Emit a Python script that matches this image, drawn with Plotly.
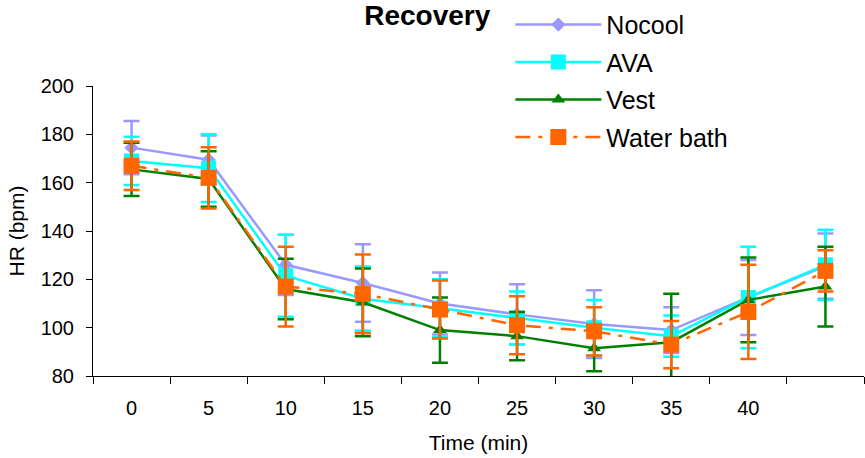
import plotly.graph_objects as go

categories = ["0", "5", "10", "15", "20", "25", "30", "35", "40", ""]
positions = list(range(len(categories)))

nocool_mean = [174.5, 169.5, 126, 118.5, 110, 105.5, 101.5, 99, 112.5, 125.5]
nocool_sd = [11, 10, 12.5, 16, 12.8, 12.5, 14, 9.5, 15.5, 13.5]
ava_mean = [169, 166, 121.5, 112, 108, 104, 100, 96.5, 112.5, 126]
ava_sd = [10, 14, 17, 13.3, 12, 11, 11.5, 8.5, 21, 14.5]
vest_mean = [165.5, 161.5, 116, 110.5, 99, 96.5, 91.5, 94, 111.5, 117]
vest_sd = [11, 11.5, 12.5, 14, 13.5, 10, 9.5, 20, 17.5, 16.5]
water_mean = [167, 162, 117, 114, 107.5, 101, 98.5, 93, 106.5, 123.5]
water_sd = [10, 12.7, 16.5, 16.3, 12, 12, 10, 9.8, 19.5, 8.5]

series = [
    ("Nocool", nocool_mean, nocool_sd, "#9999FF", "diamond", 11, "solid", 2.5),
    ("AVA", ava_mean, ava_sd, "#00FFFF", "square", 15, "solid", 2.5),
    ("Vest", vest_mean, vest_sd, "#008000", "triangle-up", 12, "solid", 2.5),
    ("Water bath", water_mean, water_sd, "#FF6600", "square", 16, "15px,8px,4px,8px", 2.5),
]

FONT = "Liberation Sans, Arial, sans-serif"

fig = go.Figure()
for name, mean, sd, color, symbol, size, dash, lw in series:
    fig.add_trace(go.Scatter(
        x=positions, y=mean, name=name, mode="lines+markers", legendgroup=name,
        line=dict(color=color, width=lw, dash=dash),
        marker=dict(symbol=symbol, size=size, color=color),
        error_y=dict(type="data", array=sd, visible=True, color=color,
                     thickness=2.5, width=8),
    ))

fig.update_layout(
    width=865, height=458,
    margin=dict(l=93, r=1, t=86, b=82, autoexpand=False),
    paper_bgcolor="white", plot_bgcolor="white",
    font=dict(family=FONT, size=20, color="black"),
    title=dict(text="<b>Recovery</b>", font=dict(size=28, family=FONT, color="black"),
               x=0.494, xanchor="center", xref="container",
               y=0.966, yanchor="middle", yref="container"),
    legend=dict(x=0.590, xanchor="left", xref="container",
                y=0.996, yanchor="top", yref="container",
                font=dict(size=25, family=FONT, color="black"),
                traceorder="grouped", tracegroupgap=2, itemwidth=86,
                bgcolor="rgba(0,0,0,0)"),
    showlegend=True,
)

fig.update_xaxes(
    range=[-0.5, 9.5], tickmode="array", tickvals=positions, ticktext=categories,
    ticks="", showline=True, linecolor="black", linewidth=1,
    showgrid=False, zeroline=False,
    minor=dict(tick0=-0.5, dtick=1, ticks="outside", ticklen=7, tickcolor="black", tickwidth=1),
    tickfont=dict(size=20, family=FONT, color="black"),
    ticklabelstandoff=14,
    title=dict(text="Time (min)", font=dict(size=21, family=FONT, color="black"), standoff=17),
)
fig.update_yaxes(
    range=[80, 200], tickmode="array", tickvals=[80, 100, 120, 140, 160, 180, 200],
    ticks="outside", ticklen=6, tickcolor="black", tickwidth=1,
    showline=True, linecolor="black", linewidth=1,
    showgrid=False, zeroline=False,
    tickfont=dict(size=20, family=FONT, color="black"),
    ticklabelstandoff=8,
    title=dict(text="HR (bpm)", font=dict(size=21, family=FONT, color="black"), standoff=10),
)

fig.write_html("out.html", config={"displayModeBar": False},
               post_script="document.body.style.margin='0';")
